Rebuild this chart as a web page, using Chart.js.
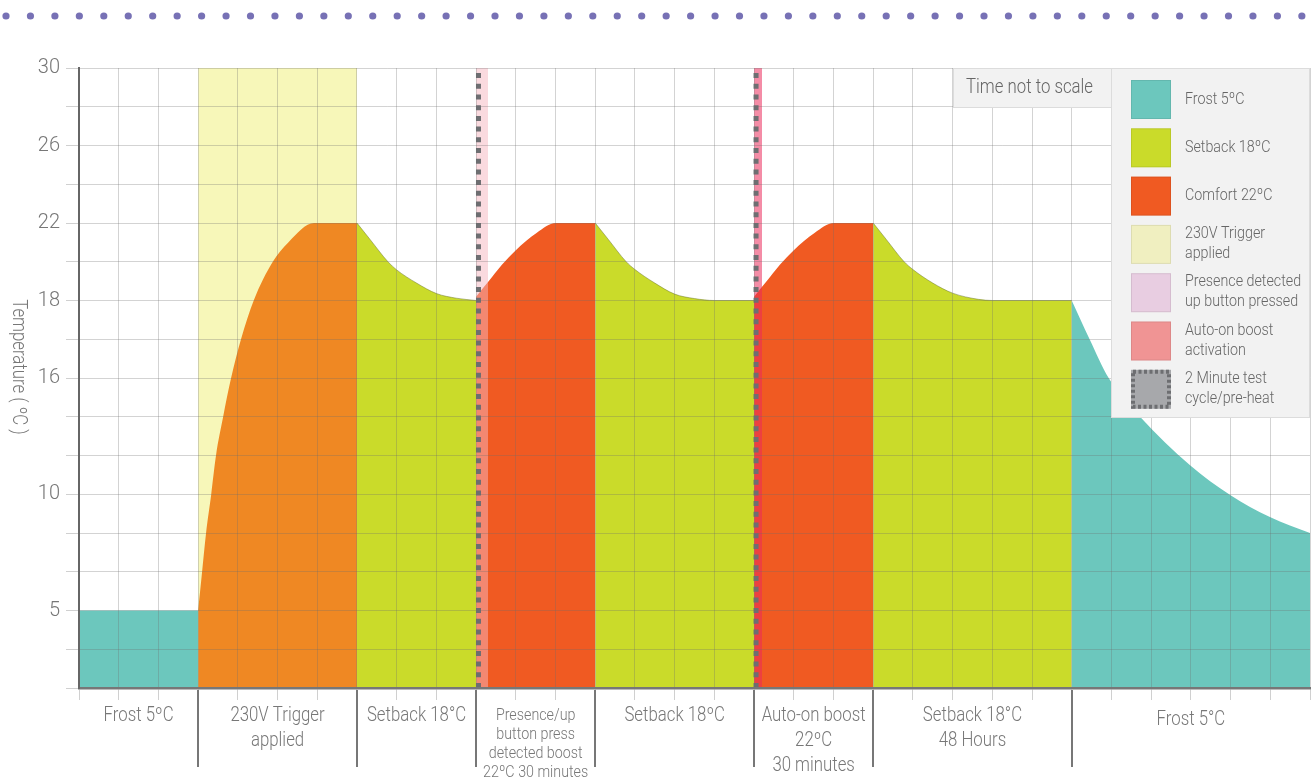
<!DOCTYPE html>
<html>
<head>
<meta charset="utf-8">
<script src="https://cdn.jsdelivr.net/npm/chart.js@4"></script>
<style>
  html, body { margin: 0; background: #fff; }
  #wrap { position: relative; width: 1315px; height: 780px; }
</style>
</head>
<body>
<div id="wrap"><canvas id="chart"></canvas></div>
<script>
// time axis is "not to scale": one unit = one grid column
const frost1Time = [0, 3];
const frost1Temp = [5, 5];
const triggerBandTime = [3, 7];
const triggerBandTemp = [30, 30];
const triggerTime = [3, 3.1, 3.2, 3.33, 3.45, 3.63, 3.83, 4.08, 4.4, 4.88, 5.27, 5.92, 7];
const triggerTemp = [5, 6.67, 8.33, 10, 12, 14, 16, 17, 18, 20, 21, 22, 22];
const setback1Time = [7, 7.33, 7.78, 8, 8.5, 9, 9.5, 10];
const setback1Temp = [22, 21.15, 20, 19.58, 18.9, 18.36, 18.12, 18];
const presenceTime = [10, 10.3, 10.65, 11, 11.53, 12, 13];
const presenceTemp = [18.2, 18.95, 19.85, 20.6, 21.5, 22, 22];
const setback2Time = [13, 13.33, 13.78, 14, 14.5, 15, 15.5, 16, 17];
const setback2Temp = [22, 21.15, 20, 19.6, 18.9, 18.33, 18.1, 18, 18];
const autoTime = [17, 17.3, 17.65, 18, 18.53, 19, 20];
const autoTemp = [18.2, 18.95, 19.85, 20.6, 21.5, 22, 22];
const setback3Time = [20, 20.33, 20.78, 21, 21.5, 22, 22.65, 23, 25];
const setback3Temp = [22, 21.15, 20, 19.6, 18.9, 18.38, 18.06, 18, 18];
const frost2Time = [25, 25.45, 25.93, 26.72, 27.98, 28.99, 29.99, 31];
const frost2Temp = [18, 17, 16, 14, 11.5, 9.97, 9.02, 8.33];
const presenceBandTime = [10, 10.3];
const autoBandTime = [17, 17.2];
const testCycleTimes = [10.06, 17.05];

const segmentBounds = [0, 3, 7, 10, 13, 17, 20, 25, 31];
const segmentLabels = [
  ['Frost 5ºC'],
  ['230V Trigger', 'applied'],
  ['Setback 18°C'],
  ['Presence/up', 'button press', 'detected boost', '22ºC 30 minutes'],
  ['Setback 18ºC'],
  ['Auto-on boost', '22ºC', '30 minutes'],
  ['Setback 18°C', '48 Hours'],
  ['Frost 5°C']
];

// the temperature axis is uneven: these knots map °C onto grid rows
const scaleTemps = [0, 5, 10, 16, 18, 22, 30];
const scaleRows = [0, 2, 5, 8, 10, 12, 16];
const yTickTemps = [5, 10, 16, 18, 22, 26, 30];

const legendLabels = [
  ['Frost 5ºC'], ['Setback 18ºC'], ['Comfort 22ºC'], ['230V Trigger', 'applied'],
  ['Presence detected', 'up button pressed'], ['Auto-on boost', 'activation'], ['2 Minute test', 'cycle/pre-heat']
];
const legendColors = ['#6cc7bd', '#cadb2a', '#f05a22', '#f0efc0', '#e8cde1', '#f09494', '#a7a8ab'];

const FONT = "Roboto, 'Liberation Sans', sans-serif";
const SQUEEZE = 0.84;
const TEXT = '#777';
const GRID = 'rgba(110,110,110,0.3)';

function toRow(t) {
  for (let i = 1; i < scaleTemps.length; i++) {
    if (t <= scaleTemps[i]) {
      const a = scaleTemps[i - 1], b = scaleTemps[i];
      return scaleRows[i - 1] + (t - a) / (b - a) * (scaleRows[i] - scaleRows[i - 1]);
    }
  }
  return scaleRows[scaleRows.length - 1];
}
const pts = (xs, ts) => xs.map((x, i) => ({ x, y: toRow(ts[i]) }));

function area(xs, ts, color, order, curved, edge) {
  return {
    data: pts(xs, ts),
    backgroundColor: color,
    borderColor: edge || 'transparent',
    borderWidth: edge ? 1 : 0,
    fill: 'origin',
    pointRadius: 0,
    cubicInterpolationMode: curved ? 'monotone' : 'default',
    tension: 0,
    order
  };
}
function vline(x, color, order) {
  return {
    data: [{ x, y: toRow(0) }, { x, y: toRow(30) }],
    borderColor: color, borderWidth: 5, borderDash: [5, 5.7], borderCapStyle: 'butt',
    fill: false, pointRadius: 0, order
  };
}

// narrow text, the original uses a condensed face
function say(ctx, s, x, y) {
  ctx.fillText(s, x, y, ctx.measureText(s).width * SQUEEZE);
}

const limeEdge = 'rgba(110,120,50,0.5)';
const datasets = [
  area(triggerBandTime, triggerBandTemp, '#f7f7b9', 20),
  area(triggerTime, triggerTemp, '#ef8823', 19, true),
  area(frost1Time, frost1Temp, '#6cc7bd', 18),
  area(setback1Time, setback1Temp, '#cadb2a', 17, true, limeEdge),
  area(presenceTime, presenceTemp, '#f05a22', 16, true),
  area(setback2Time, setback2Temp, '#cadb2a', 15, true, limeEdge),
  area(autoTime, autoTemp, '#f05a22', 14, true),
  area(setback3Time, setback3Temp, '#cadb2a', 13, true, limeEdge),
  area(frost2Time, frost2Temp, '#6cc7bd', 12, true),
  area(presenceBandTime, [30, 30], 'rgba(245,181,191,0.5)', 11),
  area(autoBandTime, [30, 30], 'rgba(235,42,90,0.54)', 10),
  vline(testCycleTimes[0], '#6d6e71', 2),
  vline(testCycleTimes[1], '#6d6e71', 1)
];

const decorations = {
  id: 'decorations',
  afterDraw(chart) {
    const { ctx, scales: { x, y } } = chart;
    ctx.save();

    // dotted header rule
    ctx.fillStyle = '#7771b5';
    for (let i = 0; i < 54; i++) {
      ctx.beginPath();
      ctx.arc(6 + i * 24.45, 16, 3.6, 0, Math.PI * 2);
      ctx.fill();
    }

    // axis title, reads top to bottom
    ctx.fillStyle = TEXT;
    ctx.font = '300 20px ' + FONT;
    ctx.textAlign = 'center';
    ctx.textBaseline = 'middle';
    ctx.save();
    ctx.translate(18, 367);
    ctx.rotate(Math.PI / 2);
    say(ctx, 'Temperature ( ºC )', 0, 0);
    ctx.restore();

    // segment dividers and labels under the time axis
    ctx.strokeStyle = '#777';
    ctx.lineWidth = 2;
    segmentBounds.slice(1, -1).forEach(b => {
      const px = Math.round(x.getPixelForValue(b));
      ctx.beginPath();
      ctx.moveTo(px, y.bottom + 2);
      ctx.lineTo(px, 767);
      ctx.stroke();
    });
    segmentLabels.forEach((lines, i) => {
      const cx = x.getPixelForValue((segmentBounds[i] + segmentBounds[i + 1]) / 2);
      const small = lines.length > 3;
      ctx.font = '300 ' + (small ? 17 : 20) + 'px ' + FONT;
      const step = small ? 19 : 25;
      const top = i === segmentLabels.length - 1 ? 720 : 716;
      lines.forEach((s, k) => say(ctx, s, cx, top + k * step));
    });

    // "Time not to scale" box and legend panel
    ctx.fillStyle = '#f2f2f2';
    ctx.strokeStyle = '#dcdcdc';
    ctx.lineWidth = 1;
    ctx.fillRect(953, 68, 159, 39);
    ctx.strokeRect(953.5, 68.5, 159, 39);
    ctx.fillRect(1112, 68, 198, 349);
    ctx.strokeRect(1111.5, 68.5, 198, 349);
    ctx.fillStyle = '#666';
    ctx.font = '300 20px ' + FONT;
    ctx.textAlign = 'left';
    say(ctx, 'Time not to scale', 966, 88);

    legendLabels.forEach((lines, i) => {
      const top = 80 + i * 48.3;
      ctx.fillStyle = legendColors[i];
      ctx.fillRect(1131, top, 40, 39);
      if (i === legendLabels.length - 1) {
        ctx.strokeStyle = '#6d6e71';
        ctx.lineWidth = 4;
        ctx.setLineDash([3, 2.5]);
        ctx.strokeRect(1133, top + 2, 36, 35);
        ctx.setLineDash([]);
      } else {
        ctx.strokeStyle = 'rgba(0,0,0,0.08)';
        ctx.lineWidth = 1;
        ctx.strokeRect(1131.5, top + 0.5, 39, 38);
      }
      ctx.fillStyle = '#666';
      ctx.font = '300 17px ' + FONT;
      if (lines.length === 1) {
        say(ctx, lines[0], 1185, top + 19.5);
      } else {
        say(ctx, lines[0], 1185, top + 9);
        say(ctx, lines[1], 1185, top + 29);
      }
    });
    ctx.restore();
  }
};

new Chart(document.getElementById('chart'), {
  type: 'line',
  data: { datasets },
  plugins: [decorations],
  options: {
    responsive: true,
    maintainAspectRatio: false,
    animation: false,
    devicePixelRatio: 1,
    layout: { padding: { top: 68, right: 5, left: 0, bottom: 0 } },
    plugins: { legend: { display: false }, tooltip: { enabled: false } },
    scales: {
      x: {
        type: 'linear', min: 0, max: 31,
        ticks: { stepSize: 1, maxTicksLimit: 40, autoSkip: false, callback: () => '' },
        grid: { color: GRID, tickColor: '#d0d0d0', tickLength: 12, z: 1 },
        border: { color: '#777', width: 2.5, z: 2 },
        afterFit: s => { s.height = 92; }
      },
      y: {
        type: 'linear', min: 0, max: 16,
        ticks: {
          stepSize: 1, maxTicksLimit: 20, autoSkip: false, padding: 6,
          color: TEXT, font: { family: FONT, size: 20, weight: '300' },
          callback: v => {
            const t = yTickTemps.find(t => Math.abs(toRow(t) - v) < 1e-6);
            return t === undefined ? '' : String(t);
          }
        },
        grid: { color: GRID, tickColor: '#d0d0d0', tickLength: 13, z: 1 },
        border: { color: '#666', width: 2, z: 2 },
        afterFit: s => { s.width = 79; }
      }
    }
  }
});
</script>
</body>
</html>
